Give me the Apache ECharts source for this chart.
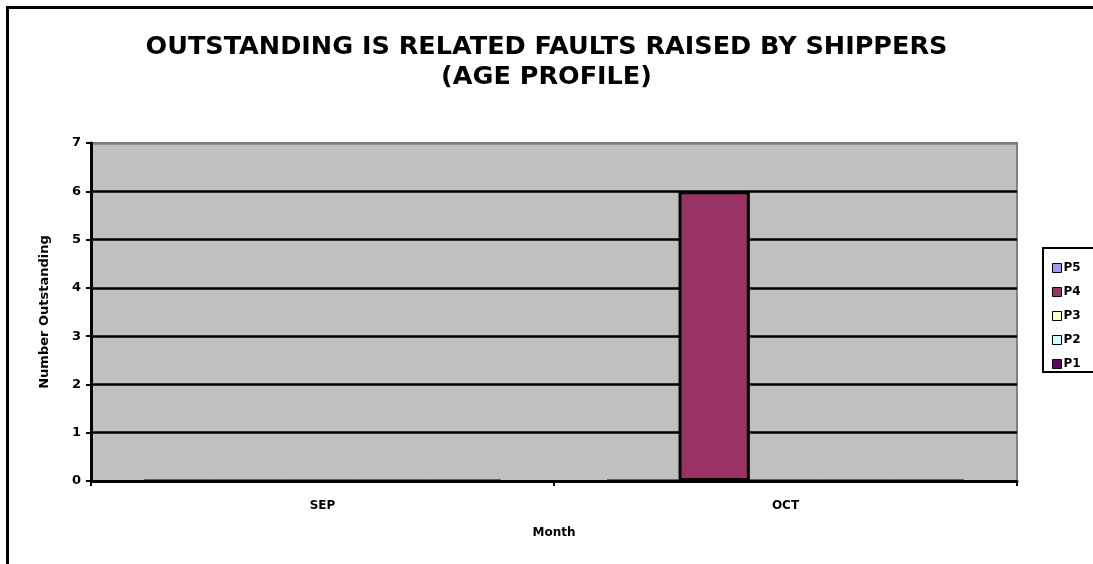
<!DOCTYPE html>
<html>
<head>
<meta charset="utf-8">
<script src="https://cdn.jsdelivr.net/npm/echarts@6/dist/echarts.min.js"></script>
<style>
html,body{margin:0;padding:0;background:#fff;}
#chart{width:1093px;height:564px;}
</style>
</head>
<body>
<div id="chart"></div>
<script>
const categories = ['SEP', 'OCT'];
const seriesNames = ['P5', 'P4', 'P3', 'P2', 'P1'];
const seriesColors = ['#9999FF', '#993366', '#FFFFCC', '#CCFFFF', '#660066'];
const P5 = [0, 0];
const P4 = [0, 6];
const P3 = [0, 0];
const P2 = [0, 0];
const P1 = [0, 0];
const seriesValues = [P5, P4, P3, P2, P1];
const yTicks = [0, 1, 2, 3, 4, 5, 6, 7];

const chart = echarts.init(document.getElementById('chart'), null, {renderer: 'canvas'});
const font = '"DejaVu Sans", "Liberation Sans", Arial, sans-serif';

const option = {
  animation: false,
  backgroundColor: '#ffffff',
  title: {
    text: 'OUTSTANDING IS RELATED FAULTS RAISED BY SHIPPERS\n(AGE PROFILE)',
    left: 'center',
    top: 27,
    textStyle: {fontFamily: font, fontWeight: 'bold', fontSize: 25.5, color: '#000', lineHeight: 30}
  },
  graphic: [
    {type: 'polyline', shape: {points: [[7.5, 564], [7.5, 7.5], [1093, 7.5]]}, style: {stroke: '#000', lineWidth: 3, fill: null}, z: 10},
    {type: 'rect', shape: {x: 1043, y: 248, width: 60, height: 124}, style: {stroke: '#000', lineWidth: 2, fill: '#fff'}, z: 0}
  ],
  legend: {
    orient: 'vertical',
    left: 1047,
    top: 257,
    itemWidth: 9,
    itemHeight: 9,
    itemGap: 12,
    icon: 'rect',
    data: seriesNames,
    textStyle: {fontFamily: font, fontWeight: 'bold', fontSize: 12, color: '#000', padding: [0, 0, 0, -3]},
    itemStyle: {borderColor: '#000', borderWidth: 1},
    z: 5
  },
  grid: {
    left: 91, right: 76, top: 143, bottom: 83,
    show: true, backgroundColor: '#C0C0C0', borderColor: '#808080', borderWidth: 2
  },
  xAxis: {
    type: 'category',
    data: categories,
    name: 'Month',
    nameLocation: 'middle',
    nameGap: 46,
    nameTextStyle: {fontFamily: font, fontWeight: 'bold', fontSize: 12, color: '#000'},
    axisLine: {lineStyle: {color: '#000', width: 3}},
    axisTick: {show: true, length: 5, lineStyle: {color: '#000', width: 2}},
    axisLabel: {fontFamily: font, fontWeight: 'bold', fontSize: 12, color: '#000', margin: 19}
  },
  yAxis: {
    type: 'value',
    min: 0, max: 7, interval: 1,
    name: 'Number Outstanding',
    nameLocation: 'middle',
    nameGap: 40,
    nameTextStyle: {fontFamily: font, fontWeight: 'bold', fontSize: 13, color: '#000'},
    axisLine: {show: true, lineStyle: {color: '#000', width: 3}},
    axisTick: {show: true, length: 5, lineStyle: {color: '#000', width: 2}},
    axisLabel: {fontFamily: font, fontWeight: 'bold', fontSize: 13, color: '#000', margin: 10,
      formatter: v => yTicks.includes(v) ? String(v) : ''},
    splitLine: {show: true, lineStyle: {color: ['#000', '#000', '#000', '#000', '#000', '#000', '#000', '#808080'], width: 2.5}}
  },
  series: seriesNames.map((n, i) => ({
    name: n,
    type: 'bar',
    data: seriesValues[i],
    barGap: '0%',
    barCategoryGap: '23%',
    itemStyle: {color: seriesColors[i], borderColor: '#000', borderWidth: 3},
    z: 3
  }))
};
chart.setOption(option);
</script>
</body>
</html>
